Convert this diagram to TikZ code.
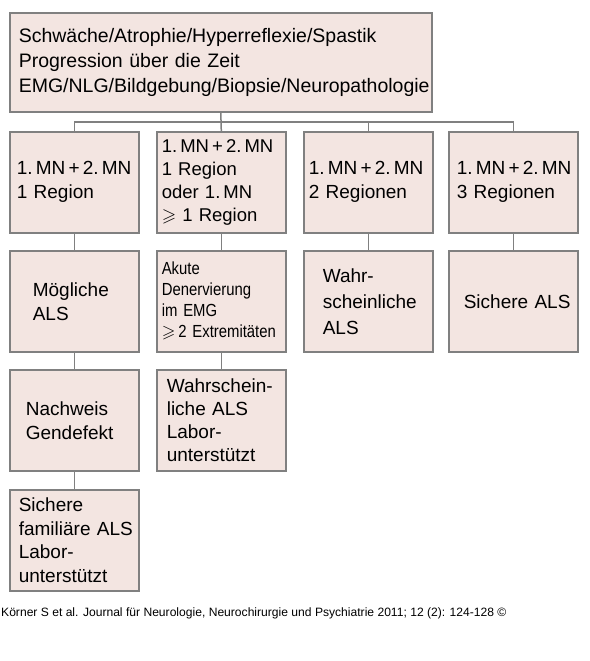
\documentclass[tikz,border=0pt]{standalone}
\usepackage{fontspec}
\setmainfont{Liberation Sans}
\newfontfamily\schmal{Liberation Sans}[FakeStretch=0.85]
\usepackage{amssymb}
\usetikzlibrary{positioning}
\definecolor{kastenfill}{RGB}{243,229,225}
\definecolor{kastenrand}{RGB}{128,128,128}

\tikzset{
  kasten/.style={draw=kastenrand, line width=1.6pt, fill=kastenfill, anchor=north west,
    minimum height=101pt, inner ysep=0pt, align=left,
    execute at begin node={\hyphenpenalty=10000\exhyphenpenalty=10000},
    font=\fontsize{19}{24}\selectfont},
  linie/.style={draw=kastenrand, line width=1.5pt}
}

\begin{document}
\begin{tikzpicture}[x=1pt, y=-1pt]
        \useasboundingbox (0,0) rectangle (589,661);
        %oberer kasten
        \node[kasten, minimum height=99pt, inner xsep=9pt, text width=404pt, font=\fontsize{19.5}{25}\selectfont] (kriterien) at (9,12)
        {Schwäche/Atrophie/Hyperreflexie/Spastik\\Progression über die Zeit\\EMG/NLG/Bildgebung/Biopsie/Neuropathologie};

        %erste reihe
        \node[kasten, inner xsep=7pt, text width=115pt] (mn1) at (9,131) {1.\,MN\,+\,2.\,MN\\1~Region};
        \node[kasten, inner xsep=5pt, text width=119pt, font=\fontsize{18.5}{23}\selectfont] (mn2) at (156,131)
        {1.\,MN\,+\,2.\,MN\\1~Region\\oder~1.\,MN\\$\geqslant$~1~Region};
        \node[kasten, inner xsep=5pt, text width=119pt] (mn3) at (303,131) {1.\,MN\,+\,2.\,MN\\2~Regionen};
        \node[kasten, inner xsep=8pt, text width=113pt] (mn4) at (448,131) {1.\,MN\,+\,2.\,MN\\3~Regionen};

        %zweite reihe
        \node[kasten, inner xsep=23pt, text width=83pt] (moeglich) at (9,250) {Mögliche\\ALS};
        \node[kasten, inner xsep=5pt, text width=119pt, font=\schmal\fontsize{17.5}{21}\selectfont] (denerv) at (156,250)
        {Akute\\Denervierung\\im~EMG\\$\geqslant$\,2~Extremitäten};
        \node[kasten, inner xsep=19pt, text width=91pt, font=\fontsize{19}{26}\selectfont] (wahrsch) at (303,250) {Wahr-\\scheinliche\\ALS};
        \node[kasten, inner xsep=15pt, text width=99pt] (sicher) at (448,250) {Sichere~ALS};

        %dritte reihe
        \node[kasten, inner xsep=16pt, text width=97pt] (gendefekt) at (9,369) {Nachweis\\Gendefekt};
        \node[kasten, inner xsep=10pt, text width=109pt, font=\fontsize{19}{23}\selectfont] (labor) at (156,369)
        {Wahrschein-\\liche~ALS\\Labor-\\unterstützt};

        %vierte reihe
        \node[kasten, inner xsep=9pt, text width=111pt, font=\fontsize{19}{23.5}\selectfont] (familiaer) at (9,489)
        {Sichere\\familiäre~ALS\\Labor-\\unterstützt};

        %verbindungen
        \coordinate (bus) at (220.5,122);
        \draw[linie] (kriterien.south) -- (mn2.north);
        \draw[linie] (mn1.north) |- (bus) -| (mn4.north);
        \draw[linie] (mn3.north) -- (mn3.north |- bus);
        \draw[linie] (mn1) -- (moeglich);
        \draw[linie] (moeglich) -- (gendefekt);
        \draw[linie] (gendefekt) -- (familiaer);
        \draw[linie] (mn2) -- (denerv);
        \draw[linie] (denerv) -- (labor);
        \draw[linie] (mn3) -- (wahrsch);
        \draw[linie] (mn4) -- (sicher);

        %quelle
        \node[anchor=west, inner sep=0pt, font=\fontsize{12.1}{14}\selectfont] (quelle) at (1,613)
        {Körner S et al. Journal für Neurologie, Neurochirurgie und Psychiatrie 2011; 12 (2): 124-128 ©};
\end{tikzpicture}
\end{document}
